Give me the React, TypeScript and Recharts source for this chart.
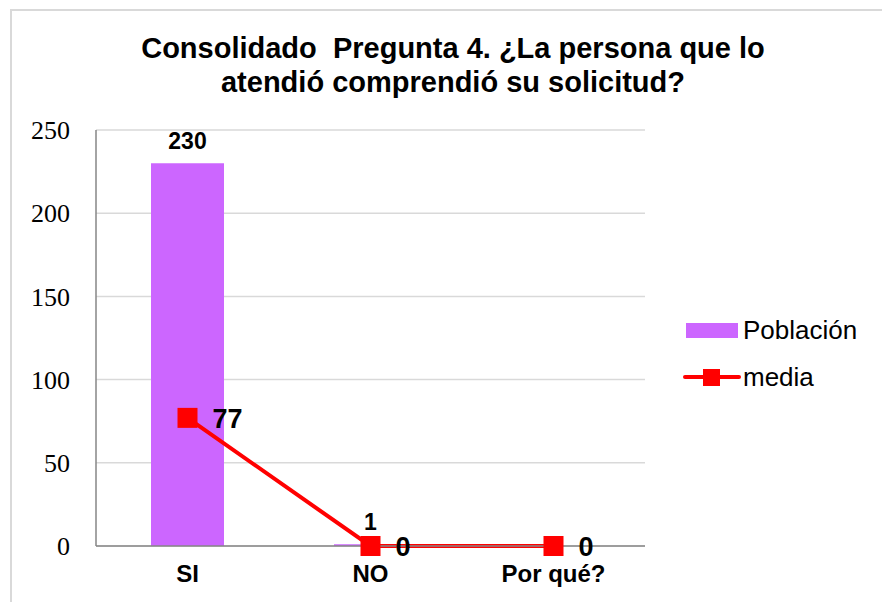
import React from 'react';
import { ComposedChart, Bar, Line, XAxis, YAxis, CartesianGrid, LabelList } from 'recharts';

const categories = ['SI', 'NO', 'Por qué?'];
const poblacion = [230, 1, 0];
const media = [77, 0, 0];
const yTicks = [0, 50, 100, 150, 200, 250];

const data = categories.map((name, i) => ({ name, poblacion: poblacion[i], media: media[i] }));

const SANS = '"Liberation Sans", Arial, sans-serif';
const SERIF = '"Liberation Serif", "Times New Roman", serif';

const SquareDot = (props: any) => {
  const { cx, cy } = props;
  if (cx == null || cy == null) return null;
  return <rect x={cx - 10} y={cy - 10} width={20} height={20} fill="#ff0000" />;
};

const MediaLabel = (props: any) => {
  const { x, y, value } = props;
  return (
    <text x={x + 25} y={y + 10} fontFamily={SANS} fontWeight="bold" fontSize={27} fill="#000">
      {value}
    </text>
  );
};

const App: React.FC = () => {
  return (
    <div style={{ position: 'absolute', left: 0, top: 0, width: 882, height: 602, overflow: 'hidden', background: '#fff' }}>
      {/* chart border */}
      <div style={{ position: 'absolute', left: 10, top: 9, width: 900, height: 620, border: '2px solid #d9d9d9', boxSizing: 'border-box' }} />
      <div
        style={{
          position: 'absolute', left: 0, width: 906, top: 31, textAlign: 'center',
          fontFamily: SANS, fontWeight: 'bold', fontSize: 29, lineHeight: '34px', whiteSpace: 'pre', color: '#000',
        }}
      >
        {'Consolidado  Pregunta 4. ¿La persona que lo\natendió comprendió su solicitud?'}
      </div>
      <div style={{ position: 'absolute', left: 0, top: 0 }}>
        <ComposedChart width={882} height={602} data={data} margin={{ top: 130, right: 237, bottom: 16, left: 36 }}>
          <CartesianGrid vertical={false} stroke="#d9d9d9" strokeWidth={1.5} />
          <XAxis
            dataKey="name"
            height={40}
            stroke="#868686"
            strokeWidth={1.5}
            tickLine={false}
            tickSize={0}
            tickMargin={19}
            tick={{ fontFamily: SANS, fontWeight: 'bold', fontSize: 24, fill: '#000' }}
          />
          <YAxis
            width={60}
            domain={[0, 250]}
            ticks={yTicks}
            stroke="#868686"
            strokeWidth={1.5}
            tickLine={false}
            tickSize={0}
            tickMargin={26}
            tick={{ fontFamily: SERIF, fontSize: 26, fill: '#000' }}
          />
          <Bar dataKey="poblacion" fill="#cc66ff" barSize={73} isAnimationActive={false}>
            <LabelList dataKey="poblacion" position="top" offset={14} fontFamily={SANS} fontWeight="bold" fontSize={23} fill="#000" />
          </Bar>
          <Line
            dataKey="media"
            stroke="#ff0000"
            strokeWidth={4}
            dot={<SquareDot />}
            activeDot={false}
            isAnimationActive={false}
          >
            <LabelList dataKey="media" content={<MediaLabel />} />
          </Line>
        </ComposedChart>
      </div>
      {/* legend */}
      <div style={{ position: 'absolute', left: 683, top: 314, fontFamily: SANS, fontSize: 26, color: '#000' }}>
        <div style={{ display: 'flex', alignItems: 'center', height: 32 }}>
          <div style={{ width: 52, height: 15, background: '#cc66ff', marginLeft: 3, marginRight: 5 }} />
          <span>Población</span>
        </div>
        <div style={{ display: 'flex', alignItems: 'center', height: 32, marginTop: 15 }}>
          <svg width={58} height={20} style={{ marginRight: 2 }}>
            <line x1={2} y1={10} x2={56} y2={10} stroke="#ff0000" strokeWidth={4} strokeLinecap="round" />
            <rect x={20} y={2} width={17} height={17} fill="#ff0000" />
          </svg>
          <span>media</span>
        </div>
      </div>
    </div>
  );
};

export default App;
